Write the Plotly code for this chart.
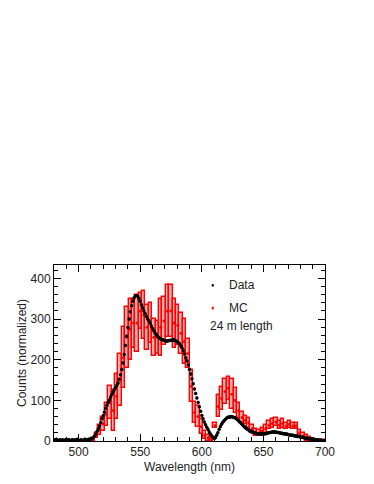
import plotly.graph_objects as go

# measured spectrum, 1 nm steps from 480 to 700 (None = empty bin)
data_start = 480
data_counts = [
    3, None, 4, 2, None, 3, None, 3, None, 2, 4, None, 3, None, 2, 3, None, 3, None, 4,
    2, None, 3, None, 2, 4, 3, 2, 4, 3, 5, 6, 9, 12, 17, 24, 30, 37, 45, 55,
    62, 71, 80, 88, 95, 101, 108, 115, 121, 126, 131, 137, 143, 152, 163, 176, 192, 213, 235, 258,
    279, 300, 318, 333, 344, 352, 357, 358, 356, 350, 343, 335, 327, 320, 313, 306, 300, 296, 290, 283,
    277, 271, 266, 262, 258, 255, 252, 250, 249, 248, 247, 246, 246, 247, 247, 248, 248, 249, 248, 246,
    244, 242, 239, 234, 229, 222, 214, 205, 197, 187, 176, 165, 153, 141, 128, 117, 106, 95, 84, 73,
    63, 55, 47, 40, 34, 28, 22, 17, 12, 9, 6, 8, 14, 20, 28, 35, 41, 46, 50, 53,
    56, 58, 59, 59, 60, 59, 58, 57, 55, 52, 49, 46, 43, 40, 37, 34, 31, 29, 27, 25,
    23, 22, 21, 20, 19, 18, 18, 17, 17, 17, 17, 18, 18, 19, 20, 21, 21, 22, 22, 22,
    22, 21, 21, 20, 19, 19, 18, 18, 17, 17, 16, 15, 15, 14, 14, 13, 12, 12, 11, 11,
    10, 9, 9, 8, 7, 7, 6, 6, 5, 5, 4, 4, 3, 3, 3, 2, 2, 2, 1, 1,
    1,
]
data_nm = [data_start + i for i in range(len(data_counts))]

# simulation: 80 bins over 480-700 nm, content and error
mc_lo, mc_hi, mc_nbins = 480, 700, 80
mc_counts = [
    None, None, None, None, None, None, None, 0, 0, 0,
    0, 4, 14, 27, 42, 65, 95, 75, 110, 150,
    205, 255, 275, 290, 290, 320, 310, 280, 290, 255,
    255, 280, 295, 320, 320, 290, 285, 265, 245, 215,
    135, 70, 60, 35, 14, 8, 6, 38, 85, 105,
    122, 130, 115, 100, 75, 58, 51, 45, 30, 21,
    20, 24, 30, 39, 43, 47, 39, 43, 37, 41,
    37, 37, 20, 12, 8, 5, 3, 1, 1, 1,
]
mc_errors = [
    0, 0, 0, 0, 0, 0, 0, 0.8, 0.8, 0.8,
    0.8, 4, 6, 12, 17, 28, 40, 50, 55, 65,
    75, 75, 75, 60, 70, 45, 60, 55, 50, 45,
    40, 70, 60, 65, 65, 60, 50, 50, 55, 35,
    40, 25, 25, 18, 10, 8, 6, 6, 27, 28,
    30, 28, 37, 30, 18, 13, 10, 12, 10, 9,
    8, 8, 10, 10, 10, 10, 10, 10, 8, 8,
    8, 8, 8, 8, 7, 5, 3, 1, 1, 1,
]
mc_width = (mc_hi - mc_lo) / mc_nbins
mc_nm = [mc_lo + mc_width * (i + 0.5) for i in range(mc_nbins)]

idx = [i for i, c in enumerate(mc_counts) if c is not None]
bx = [mc_nm[i] for i in idx]
bbase = [mc_counts[i] - mc_errors[i] for i in idx]
bheight = [2 * mc_errors[i] for i in idx]

fig = go.Figure()

fig.add_trace(go.Bar(
    x=bx, y=bheight, base=bbase, width=mc_width,
    marker=dict(color='rgba(255,90,90,0.5)', line=dict(color='#ff0000', width=1.4)),
    showlegend=False, hoverinfo='skip',
))
fig.add_trace(go.Scatter(
    x=bx, y=[mc_counts[i] for i in idx], mode='markers',
    marker=dict(color='#ff0000', size=3),
    showlegend=False,
))
fig.add_trace(go.Scatter(
    x=data_nm, y=data_counts, mode='markers',
    marker=dict(color='black', size=3.5),
    error_y=dict(type='constant', value=4, color='black', thickness=1, width=0),
    showlegend=False,
))

axis_font = dict(family='Liberation Sans, Arial, sans-serif', size=12, color='#222')
common = dict(
    showline=True, linecolor='black', linewidth=1, mirror='ticks',
    ticks='inside', ticklen=7, tickcolor='black', showgrid=False, zeroline=False,
    tickfont=axis_font,
)
fig.update_xaxes(
    range=[480, 700], dtick=50, tick0=500,
    minor=dict(dtick=10, ticks='inside', ticklen=4, tickcolor='black'),
    **common,
)
fig.update_yaxes(
    range=[0, 433], dtick=100,
    minor=dict(dtick=20, ticks='inside', ticklen=4, tickcolor='black'),
    title=dict(text='Counts (normalized)', font=axis_font, standoff=1),
    **common,
)

# x title set close under the tick labels
fig.add_annotation(text='Wavelength (nm)', xref='paper', yref='paper', x=0.5, y=0,
                   xanchor='center', yanchor='top', yshift=-17, showarrow=False, font=axis_font)

# legend drawn by hand
legend_rows = [('Data', 'black', 0.885), ('MC', '#ff0000', 0.755)]
for label, col, yy in legend_rows:
    fig.add_shape(type='circle', xref='paper', yref='paper',
                  x0=0.582, x1=0.590, y0=yy - 0.009, y1=yy + 0.009,
                  fillcolor=col, line=dict(width=0))
    fig.add_annotation(text=label, xref='paper', yref='paper', x=0.638, y=yy,
                       xanchor='left', yanchor='middle', showarrow=False, font=axis_font)
fig.add_annotation(text='24 m length', xref='paper', yref='paper', x=0.570, y=0.655,
                   xanchor='left', yanchor='middle', showarrow=False, font=axis_font)

fig.update_layout(
    width=374, height=484,
    margin=dict(l=46, r=57, t=257, b=51),
    paper_bgcolor='white', plot_bgcolor='white',
    barmode='overlay', bargap=0,
)

fig.write_html("out.html")
